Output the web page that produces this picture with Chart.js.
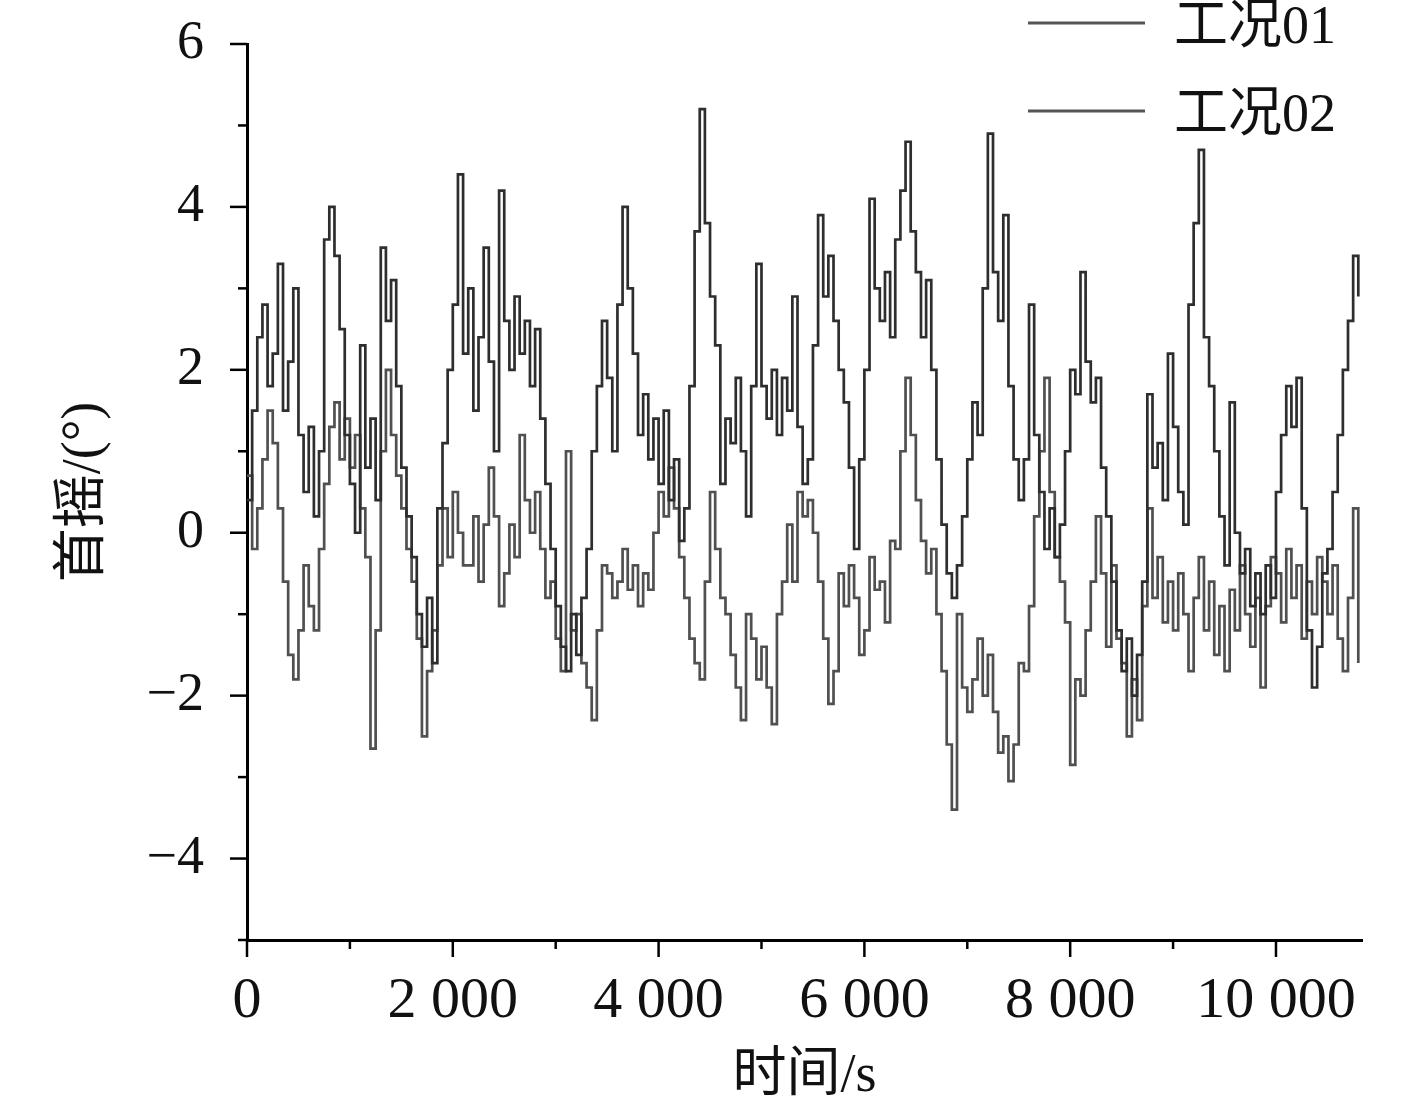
<!DOCTYPE html>
<html><head><meta charset="utf-8">
<script src="https://cdn.jsdelivr.net/npm/chart.js@4.4.1/dist/chart.umd.min.js"></script>
<style>html,body{margin:0;background:#fff}</style>
</head><body>
<canvas id="c" width="1417" height="1103"></canvas>
<script>
// samples every 50 s, t = 0 … 10800 s
const STEP = 50;
const yaw01 = [
  0.4, 1.5, 2.4, 2.8, 1.8, 2.2, 3.3, 1.5, 2.1, 3.0,
  1.2, 0.5, 1.3, 0.2, 1.0, 3.6, 4.0, 3.4, 2.5, 1.2,
  0.6, 0.0, 2.3, 0.8, 1.4, 0.4, 3.5, 2.6, 3.1, 1.8,
  0.8, 0.2, -0.3, -1.0, -1.4, -0.8, -1.6, 0.3, 1.1, 2.0,
  2.8, 4.4, 2.2, 3.0, 1.5, 2.4, 3.5, 2.1, 1.0, 4.2,
  2.6, 2.0, 2.9, 2.2, 2.6, 1.8, 2.5, 1.4, 0.6, -0.2,
  -0.9, -1.4, -1.7, -1.0, -1.5, -0.8, -0.2, 1.0, 1.8, 2.6,
  1.9, 1.0, 2.8, 4.0, 3.0, 2.2, 1.2, 1.7, 0.9, 1.4,
  0.6, 1.5, 0.4, 0.9, -0.1, 0.3, 1.8, 3.7, 5.2, 3.8,
  2.9, 2.3, 0.6, 1.4, 1.1, 1.9, 1.0, 0.2, 1.8, 3.3,
  1.8, 1.4, 2.0, 1.2, 1.9, 1.5, 2.9, 1.3, 0.6, 0.9,
  2.3, 3.9, 2.9, 3.4, 2.6, 2.0, 1.6, 0.8, -0.2, 0.9,
  2.0, 4.1, 3.0, 2.6, 3.2, 2.4, 3.6, 4.2, 4.8, 3.7,
  3.2, 2.4, 3.1, 2.0, 0.9, 0.1, -0.5, -0.8, -0.4, 0.2,
  0.9, 1.6, 1.2, 3.0, 4.9, 3.2, 2.6, 3.9, 1.8, 0.9,
  0.4, 0.9, 2.8, 1.2, 0.5, -0.2, 0.3, -0.3, 0.1, 1.0,
  2.0, 1.7, 3.2, 2.1, 1.6, 1.9, 0.8, 0.2, -0.6, -1.2,
  -1.7, -1.3, -2.0, -1.5, -0.6, 1.7, 0.8, 1.1, 0.4, 2.2,
  1.3, 0.5, 0.1, 2.8, 3.8, 4.7, 2.4, 1.8, 1.0, 0.2,
  -0.4, 1.6, 0.0, -0.5, -0.2, -0.9, -0.5, -1.0, -0.4, -0.8,
  0.5, 1.2, 1.8, 1.3, 1.9, 0.3, -1.2, -1.9, -1.4, -0.5,
  -0.2, 0.5, 1.2, 2.0, 2.6, 3.4, 2.9
];
const yaw02 = [
  0.7, -0.2, 0.3, 0.9, 1.5, 1.1, 0.3, -0.6, -1.5, -1.8,
  -1.2, -0.4, -0.9, -1.2, -0.2, 0.6, 1.3, 1.6, 0.9, 1.4,
  0.8, 1.2, 0.3, -0.3, -2.65, -1.2, 1.0, 2.0, 1.2, 0.7,
  0.3, -0.2, -0.6, -1.3, -2.5, -1.7, -1.2, -0.4, 0.3, -0.3,
  0.5, 0.0, -0.4, -0.4, 0.2, -0.6, 0.1, 0.8, 0.2, -0.9,
  -0.5, 0.1, -0.3, 1.2, 0.4, 0.0, 0.5, -0.2, -0.8, -0.6,
  -1.3, -1.7, 1.0, -1.2, -1.0, -1.6, -1.9, -2.3, -1.2, -0.4,
  -0.5, -0.8, -0.6, -0.2, -0.7, -0.4, -0.9, -0.5, -0.7, 0.0,
  0.5, 0.2, 0.8, 0.3, -0.3, -0.8, -1.3, -1.6, -1.8, -0.6,
  0.5, -0.2, -0.8, -1.0, -1.5, -1.9, -2.3, -1.0, -1.3, -1.8,
  -1.4, -1.9, -2.35, -1.0, -0.6, 0.1, -0.6, 0.5, 0.2, 0.4,
  0.0, -0.6, -1.3, -2.1, -1.7, -0.5, -0.9, -0.4, -0.8, -1.5,
  -1.2, -0.3, -0.7, -0.6, -1.1, -0.1, -0.2, 1.0, 1.9, 1.2,
  0.4, -0.1, -0.5, -0.2, -1.0, -1.7, -2.6, -3.4, -1.0, -1.9,
  -2.2, -1.8, -1.3, -2.0, -1.5, -2.2, -2.7, -2.5, -3.05, -2.6,
  -1.6, -1.7, -0.9, 0.2, 1.0, 1.9, 0.5, -0.3, -0.6, -1.1,
  -2.85, -1.8, -2.0, -1.2, -0.6, 0.2, -0.5, -1.4, -0.4, -1.3,
  -1.6, -2.5, -1.8, -2.3, -0.9, 0.3, -0.8, -0.3, -1.1, -0.6,
  -1.2, -0.5, -1.0, -1.7, -0.8, -0.3, -1.2, -0.6, -1.5, -0.9,
  -1.7, -0.7, -1.2, -0.4, -1.0, -1.4, -0.8, -1.9, -0.9, -0.3,
  -0.5, -1.1, -0.2, -0.8, -0.4, -1.3, -0.6, -1.0, -0.3, -0.6,
  -1.0, -0.4, -1.3, -1.7, -0.8, 0.3, -1.6
];
const seriesNames = ["工况01", "工况02"];
const xTickVals = [0, 2000, 4000, 6000, 8000, 10000];
const yTickVals = [-4, -2, 0, 2, 4, 6];

const FONT = "'Liberation Serif','Noto Sans CJK SC',serif";
Chart.defaults.font.family = FONT;
Chart.defaults.color = "#111";

const toXY = a => a.map((v, i) => ({x: i * STEP, y: v}));
const fmtX = v => v >= 1000 ? Math.floor(v / 1000) + " " + String(v % 1000).padStart(3, "0") : String(v);
const fmtY = v => v < 0 ? "\u2212" + Math.abs(v) : String(v);
const fixTicks = vals => s => { s.ticks = vals.map(v => ({value: v})); };

// outward ticks (long on labelled values, short in between) + legend top right
const decor = {
  id: "decor",
  afterDraw(ch) {
    const c = ch.ctx, xs = ch.scales.x, ys = ch.scales.y, a = ch.chartArea;
    c.save();
    c.strokeStyle = "#000"; c.lineWidth = 2.5;
    for (let v = 0; v <= xs.max; v += 1000) {
      const p = xs.getPixelForValue(v), L = xTickVals.includes(v) ? 17 : 9;
      c.beginPath(); c.moveTo(p, a.bottom); c.lineTo(p, a.bottom + L); c.stroke();
    }
    for (let v = ys.min; v <= ys.max; v++) {
      const p = ys.getPixelForValue(v), L = yTickVals.includes(v) ? 17 : 9;
      c.beginPath(); c.moveTo(a.left, p); c.lineTo(a.left - L, p); c.stroke();
    }
    ch.data.datasets.forEach((d, i) => {
      const y = 23 + i * 88;
      c.strokeStyle = "#555"; c.lineWidth = 3;
      c.beginPath(); c.moveTo(1028, y); c.lineTo(1145, y); c.stroke();
      c.fillStyle = "#111"; c.font = "54px " + FONT; c.textBaseline = "middle";
      c.fillText(d.label, 1174, y + 6);
    });
    c.restore();
  }
};

new Chart(document.getElementById("c"), {
  type: "line",
  data: {datasets: [
    {label: seriesNames[0], data: toXY(yaw01), borderColor: "#2e2e2e", borderWidth: 2.7, pointRadius: 0, stepped: true},
    {label: seriesNames[1], data: toXY(yaw02), borderColor: "#505050", borderWidth: 2.7, pointRadius: 0, stepped: true}
  ]},
  options: {
    responsive: false, animation: false,
    layout: {padding: {top: 44, right: 55, left: 0, bottom: 0}},
    plugins: {legend: {display: false}, tooltip: {enabled: false}},
    scales: {
      x: {
        type: "linear", min: 0, max: 10836,
        afterBuildTicks: fixTicks(xTickVals),
        afterFit: s => { s.height = 1103 - 940; s.paddingLeft = 0; s.paddingRight = 0; },
        border: {display: true, color: "#000", width: 3},
        grid: {drawOnChartArea: false, color: "rgba(0,0,0,0)", tickLength: 17},
        ticks: {autoSkip: false, maxRotation: 0, padding: 10, font: {size: 58}, color: "#111",
          callback: v => fmtX(v)},
        title: {display: true, text: "时间/s", font: {size: 54}, color: "#111", padding: {top: 0, bottom: -6}}
      },
      y: {
        min: -5, max: 6,
        afterBuildTicks: fixTicks(yTickVals),
        afterFit: s => { s.width = 247; s.paddingTop = 0; s.paddingBottom = 0; },
        border: {display: true, color: "#000", width: 3},
        grid: {drawOnChartArea: false, color: "rgba(0,0,0,0)", tickLength: 17},
        ticks: {autoSkip: false, padding: 26, font: {size: 54}, color: "#111",
          callback: v => fmtY(v)},
        title: {display: true, text: "首摇/(°)", font: {size: 54}, color: "#111", padding: {top: 52, bottom: 0}}
      }
    }
  },
  plugins: [decor]
});
</script>
</body></html>
